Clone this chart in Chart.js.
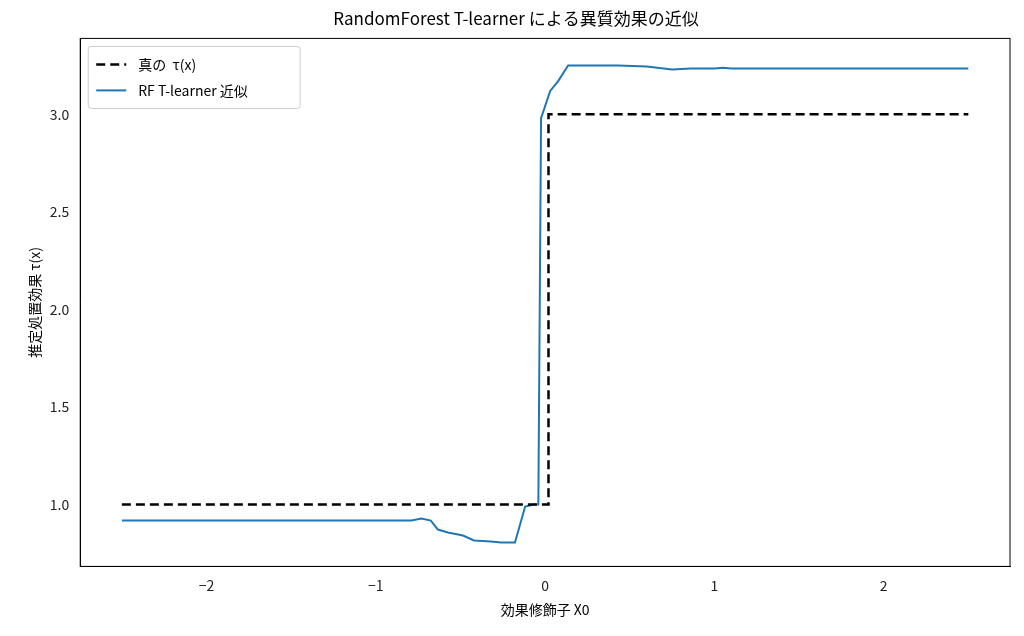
<!DOCTYPE html>
<html><head><meta charset="utf-8">
<script src="https://cdn.jsdelivr.net/npm/chart.js@4"></script>
<style>body{margin:0;background:#fff}#w{width:1024px;height:636px}</style>
</head><body><div id="w"><canvas id="c"></canvas></div>
<script>
const trueX=[-2.5,-0.02,-0.02,0.02,0.02,2.5];
const trueY=[1,1,1,1,3,3];
const rfX=[-2.5,-0.79,-0.73,-0.675,-0.633,-0.574,-0.485,-0.42,-0.32,-0.26,-0.178,-0.118,-0.065,-0.04,-0.024,0.03,0.077,0.136,0.43,0.6,0.7,0.75,0.86,1.0,1.05,1.1,2.5];
const rfY=[0.918,0.918,0.928,0.918,0.872,0.857,0.841,0.816,0.811,0.806,0.806,0.99,1.0,1.0,2.98,3.12,3.17,3.25,3.25,3.245,3.235,3.23,3.235,3.235,3.238,3.235,3.235];
const xTicks=[-2,-1,0,1,2];
const yTicks=[1.0,1.5,2.0,2.5,3.0];
const F="'Noto Sans CJK JP','Noto Sans',sans-serif";
Chart.defaults.font.family=F;Chart.defaults.color='#222';
new Chart(document.getElementById('c'),{type:'line',
data:{datasets:[
{label:'真の  τ(x)',data:trueX.map((x,i)=>({x,y:trueY[i]})),borderColor:'#000',borderWidth:2.5,borderDash:[9,5],pointRadius:0,tension:0},
{label:'RF T-learner 近似',data:rfX.map((x,i)=>({x,y:rfY[i]})),borderColor:'#1f77b4',borderWidth:2,pointRadius:0,tension:0}]},
options:{responsive:true,maintainAspectRatio:false,animation:false,
layout:{padding:{left:22,right:14,top:2,bottom:14}},
plugins:{title:{display:true,text:'RandomForest T-learner による異質効果の近似',font:{size:17,weight:'normal'},color:'#000',padding:{top:6,bottom:10}},
legend:{display:false}},
scales:{x:{type:'linear',min:-2.746,max:2.746,afterBuildTicks:a=>{a.ticks=xTicks.map(v=>({value:v}))},
ticks:{font:{size:14},color:'#222',callback:v=>v<0?'−'+Math.abs(v):String(v)},grid:{display:false,tickColor:'#000'},border:{color:'#000'},
title:{display:true,text:'効果修飾子 X0',font:{size:14},color:'#000'}},
y:{min:0.683,max:3.389,afterBuildTicks:a=>{a.ticks=yTicks.map(v=>({value:v}))},
ticks:{font:{size:14},color:'#222',callback:v=>v.toFixed(1)},grid:{display:false,tickColor:'#000'},border:{color:'#000'},
title:{display:true,text:'推定処置効果 τ(x)',font:{size:14},color:'#000'}}}},
plugins:[{id:'frame',afterDraw(c){const a=c.chartArea,g=c.ctx;g.save();g.strokeStyle='#000';g.lineWidth=1;g.strokeRect(a.left,a.top,a.right-a.left,a.bottom-a.top);
const x0=a.left+8,y0=a.top+8;g.fillStyle='rgba(255,255,255,0.85)';g.strokeStyle='#ccc';g.beginPath();g.roundRect(x0,y0,212,62,3);g.fill();g.stroke();
c.data.datasets.forEach((d,i)=>{const y=y0+18+i*26;g.strokeStyle=d.borderColor;g.lineWidth=d.borderWidth;g.setLineDash(d.borderDash||[]);g.beginPath();g.moveTo(x0+8,y);g.lineTo(x0+38,y);g.stroke();g.setLineDash([]);
g.fillStyle='#000';g.font='14px '+F;g.textBaseline='middle';g.fillText(d.label,x0+50,y);});
g.restore();}}]
});
</script></body></html>
